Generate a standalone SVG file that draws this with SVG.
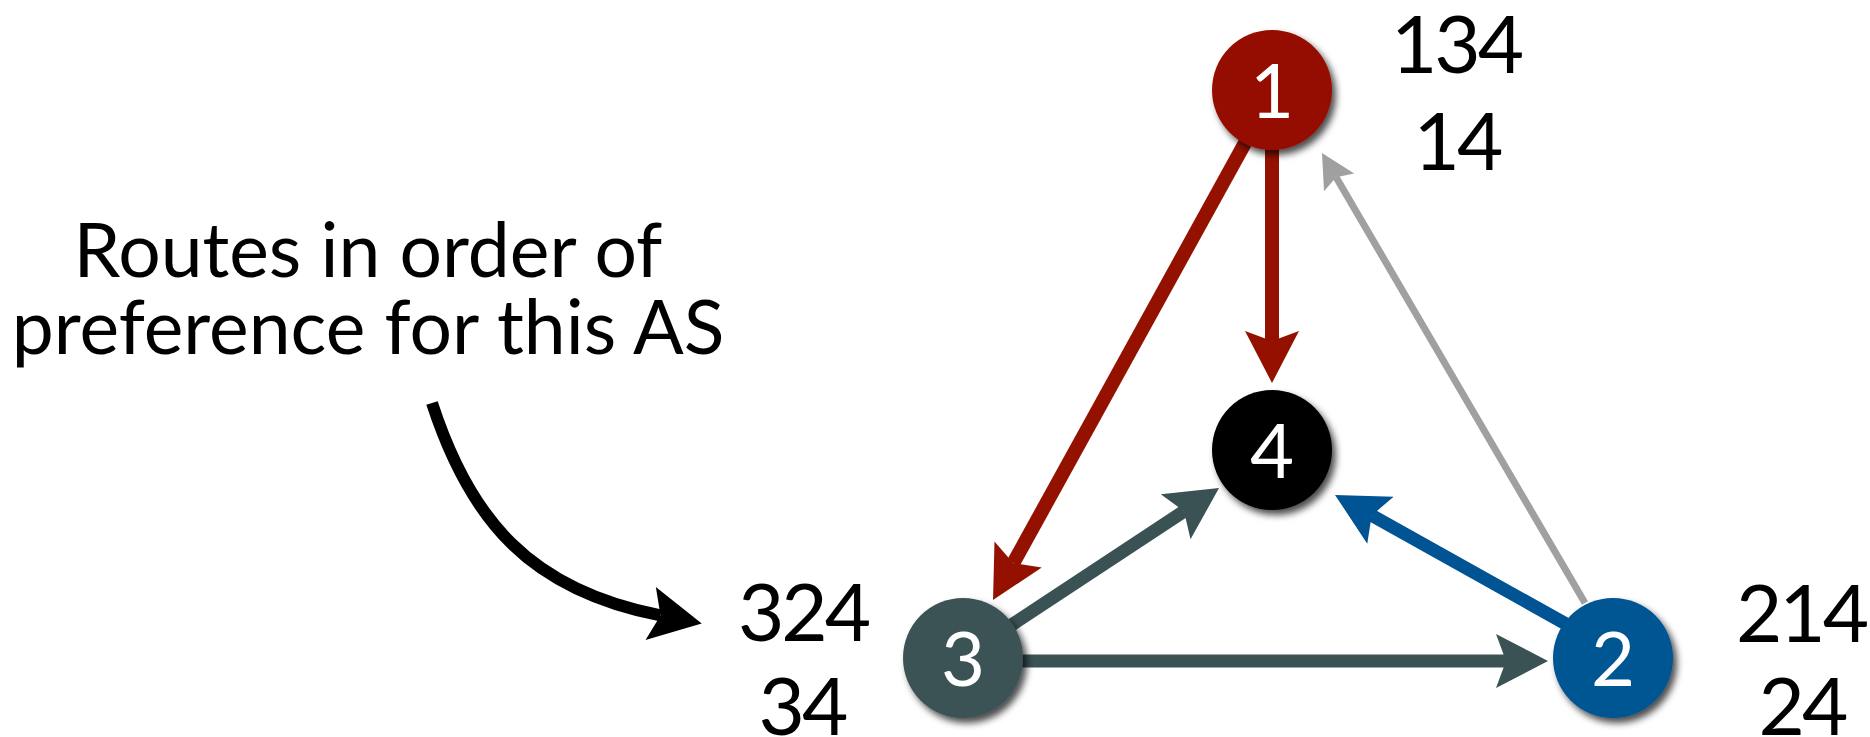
<svg xmlns="http://www.w3.org/2000/svg" width="1870" height="737" viewBox="0 0 1870 737">
<style>
.t{font-family:Lato,"Open Sans","Liberation Sans",sans-serif;fill:#000;text-anchor:middle}
.num{font-size:80px;letter-spacing:-3px}
.cap{font-size:75px}
.nl{font-family:Lato,"Open Sans","Liberation Sans",sans-serif;font-size:76px;fill:#fff;text-anchor:middle}
.c{fill:none;stroke-linecap:butt}
</style>
<defs>
<filter id="sh" x="-30%" y="-30%" width="170%" height="170%">
<feDropShadow dx="4" dy="5" stdDeviation="3.5" flood-color="#000" flood-opacity="0.7"/>
</filter>
<marker id="mR" markerUnits="userSpaceOnUse" orient="auto" refX="10" refY="0" markerWidth="60" markerHeight="60" viewBox="-2 -30 60 60" overflow="visible"><path d="M0,-27 L52,0 L0,27 L10,0 Z" fill="#941100"/></marker>
<marker id="mS" markerUnits="userSpaceOnUse" orient="auto" refX="10" refY="0" markerWidth="60" markerHeight="60" viewBox="-2 -30 60 60" overflow="visible"><path d="M0,-27 L52,0 L0,27 L10,0 Z" fill="#3b5254"/></marker>
<marker id="mB" markerUnits="userSpaceOnUse" orient="auto" refX="10" refY="0" markerWidth="60" markerHeight="60" viewBox="-2 -30 60 60" overflow="visible"><path d="M0,-27 L52,0 L0,27 L10,0 Z" fill="#005493"/></marker>
<marker id="mK" markerUnits="userSpaceOnUse" orient="auto" refX="10" refY="0" markerWidth="60" markerHeight="60" viewBox="-2 -30 60 60" overflow="visible"><path d="M0,-27 L52,0 L0,27 L10,0 Z" fill="#000"/></marker>
<marker id="mG" markerUnits="userSpaceOnUse" orient="auto" refX="6" refY="0" markerWidth="40" markerHeight="40" viewBox="-2 -20 40 40" overflow="visible"><path d="M0,-17.5 L34,0 L0,17.5 L6,0 Z" fill="#a0a0a0"/></marker>
</defs>
<rect width="1870" height="737" fill="#fff"/>
<g id="connectors">
<line class="c" x1="1585" y1="603" x2="1336.1" y2="177.2" stroke="#a0a0a0" stroke-width="7" marker-end="url(#mG)"/>
<line class="c" x1="1272" y1="140" x2="1272" y2="341" stroke="#941100" stroke-width="14" marker-end="url(#mR)"/>
<line class="c" x1="1245" y1="143" x2="1013.3" y2="563.2" stroke="#941100" stroke-width="14" marker-end="url(#mR)"/>
<line class="c" x1="1010" y1="626" x2="1184" y2="511.2" stroke="#3b5254" stroke-width="13" marker-end="url(#mS)"/>
<line class="c" x1="1015" y1="661" x2="1506" y2="661" stroke="#3b5254" stroke-width="13" marker-end="url(#mS)"/>
<line class="c" x1="1566" y1="624" x2="1371.7" y2="515.4" stroke="#005493" stroke-width="13" marker-end="url(#mB)"/>
<path class="c" d="M432,403 C470,520 530,590 660.5,615.4" stroke="#000" stroke-width="12" marker-end="url(#mK)"/>
</g>
<g id="node1"><circle cx="1272" cy="90" r="60" fill="#941100" filter="url(#sh)"/><text class="nl" x="1272" y="118">1</text></g>
<g id="node4"><circle cx="1272" cy="450" r="60" fill="#000" filter="url(#sh)"/><text class="nl" x="1272" y="478">4</text></g>
<g id="node3"><circle cx="963" cy="658" r="60" fill="#3b5254" filter="url(#sh)"/><text class="nl" x="963" y="686">3</text></g>
<g id="node2"><circle cx="1613" cy="658" r="60" fill="#005493" filter="url(#sh)"/><text class="nl" x="1613" y="686">2</text></g>
<g id="labels">
<text class="t num" x="1456" y="73">134</text>
<text class="t num" x="1457" y="170">14</text>
<text class="t num" x="1801" y="642">214</text>
<text class="t num" x="1802" y="735">24</text>
<text class="t num" x="803" y="641">324</text>
<text class="t num" x="802" y="735">34</text>
<text class="t cap" x="368" y="277">Routes in order of</text>
<text class="t cap" x="368" y="354">preference for this AS</text>
</g>
</svg>
